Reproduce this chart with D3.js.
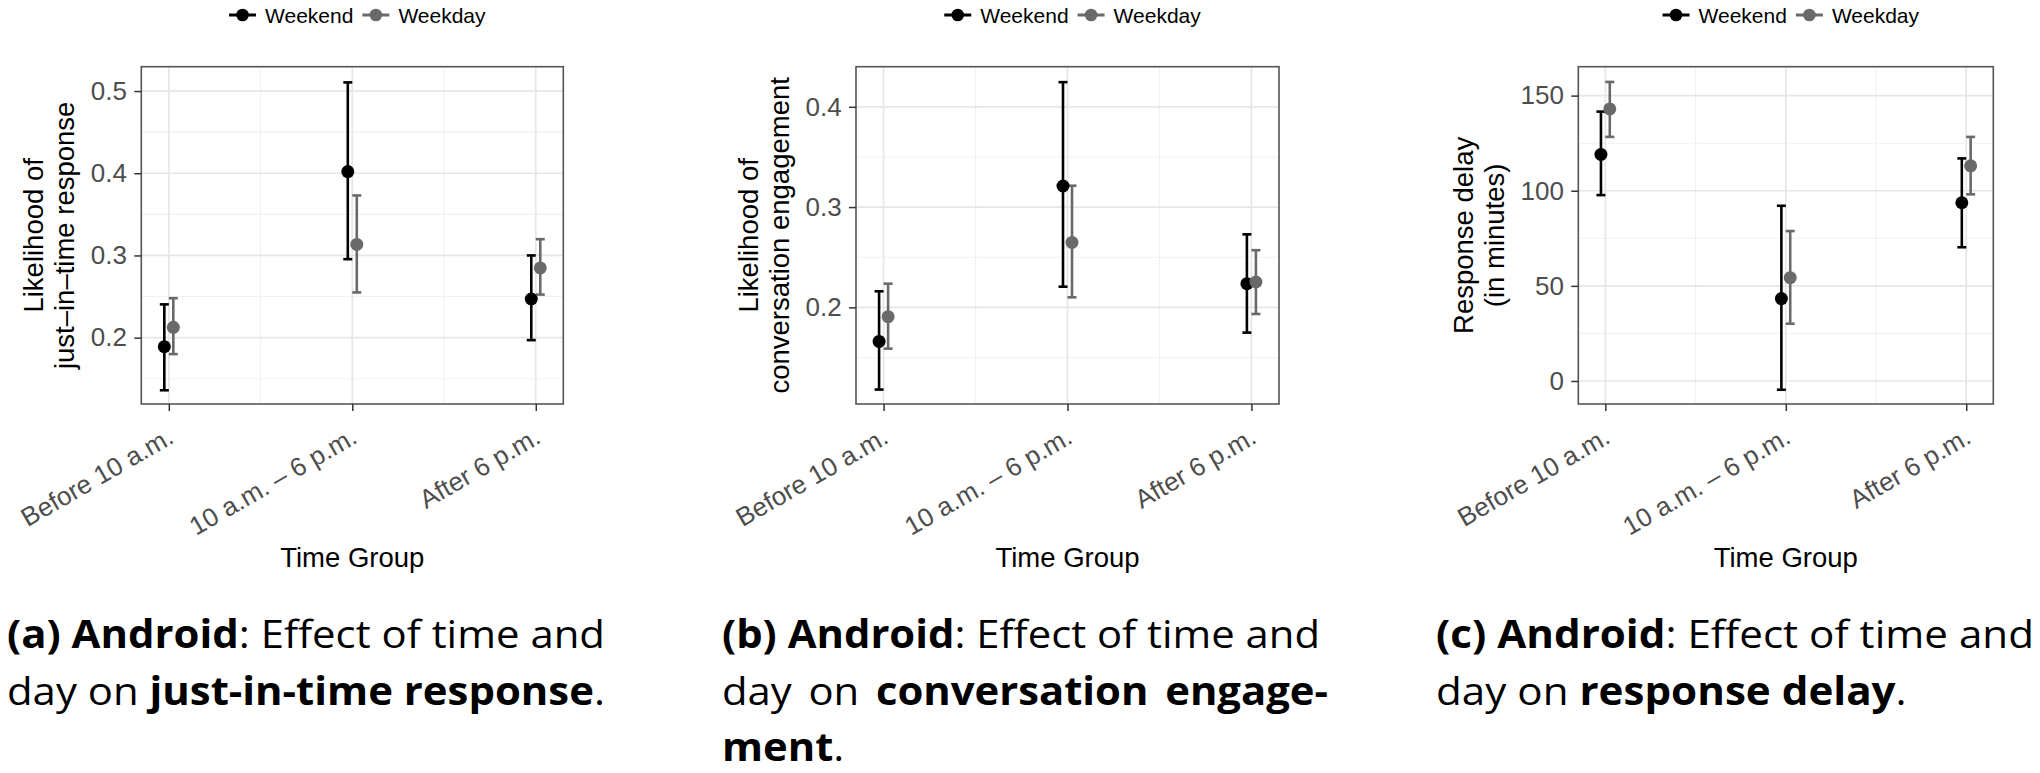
<!DOCTYPE html>
<html>
<head>
<meta charset="utf-8">
<script src="https://cdn.jsdelivr.net/npm/d3@7"></script>
<style>
  body { margin: 0; background: #ffffff; }
  svg { display: block; }
</style>
</head>
<body>
<svg id="chart" width="2040" height="773"></svg>
<script>
// ---------------- DATA ----------------
const categories = ["Before 10 a.m.", "10 a.m. \u2013 6 p.m.", "After 6 p.m."];
const seriesNames = ["Weekend", "Weekday"];

// (a) just-in-time response
const jitWeekendMean = [0.189, 0.402, 0.247];
const jitWeekendLow  = [0.136, 0.2955, 0.197];
const jitWeekendHigh = [0.2405, 0.5105, 0.300];
const jitWeekdayMean = [0.2126, 0.3134, 0.2848];
const jitWeekdayLow  = [0.180, 0.255, 0.2524];
const jitWeekdayHigh = [0.248, 0.373, 0.3198];
const jitDomain = [0.1193, 0.5296];
const jitTicks = [0.2, 0.3, 0.4, 0.5];
const jitMinorTicks = [0.15, 0.25, 0.35, 0.45];
const jitTitle = ["Likelihood of", "just\u2013in\u2013time response"];

// (b) conversation engagement
const engWeekendMean = [0.166, 0.321, 0.2236];
const engWeekendLow  = [0.118, 0.2206, 0.1748];
const engWeekendHigh = [0.216, 0.4246, 0.2728];
const engWeekdayMean = [0.1907, 0.2647, 0.2253];
const engWeekdayLow  = [0.1588, 0.210, 0.1934];
const engWeekdayHigh = [0.2236, 0.3213, 0.257];
const engDomain = [0.1036, 0.44];
const engTicks = [0.2, 0.3, 0.4];
const engMinorTicks = [0.15, 0.25, 0.35];
const engTitle = ["Likelihood of", "conversation engagement"];

// (c) response delay (minutes)
const delayWeekendMean = [119.1, 43.3, 93.7];
const delayWeekendLow  = [97.7, -4.6, 70.3];
const delayWeekendHigh = [141.6, 92.1, 117.0];
const delayWeekdayMean = [143.0, 54.3, 113.1];
const delayWeekdayLow  = [128.3, 30.1, 98.1];
const delayWeekdayHigh = [157.2, 78.8, 128.3];
const delayDomain = [-12.1, 165.2];
const delayTicks = [0, 50, 100, 150];
const delayMinorTicks = [25, 75, 125];
const delayTitle = ["Response delay", "(in minutes)"];

const xTitle = "Time Group";

const captionA = ["**(a) Android**: Effect of time and", "day on **just-in-time response**."];
const captionB = ["**(b) Android**: Effect of time and", "day on **conversation engage-**", "**ment**."];
const captionC = ["**(c) Android**: Effect of time and", "day on **response delay**."];

// ---------------- STYLE / LAYOUT ----------------
const FONT = "'Liberation Sans', Arial, Helvetica, sans-serif";
const CAPFONT = "'Open Sans', Lato, sans-serif";
const colors = { Weekend: "#000000", Weekday: "#696969" };
const panelTop = 66.7, panelBottom = 404;

const svg = d3.select("#chart");
svg.append("rect").attr("width", 2040).attr("height", 773).attr("fill", "#fff");

const panels = [
  { left: 141.3, right: 563.3, domain: jitDomain, ticks: jitTicks, minor: jitMinorTicks, fmt: d3.format(".1f"), title: jitTitle,
    series: [
      { name: seriesNames[0], mean: jitWeekendMean, low: jitWeekendLow, high: jitWeekendHigh, side: -1 },
      { name: seriesNames[1], mean: jitWeekdayMean, low: jitWeekdayLow, high: jitWeekdayHigh, side: 1 }
    ],
    caption: captionA, capX: 7, capJustify: [true, false], capWidths: [598, 598] },
  { left: 856, right: 1279, domain: engDomain, ticks: engTicks, minor: engMinorTicks, fmt: d3.format(".1f"), title: engTitle,
    series: [
      { name: seriesNames[0], mean: engWeekendMean, low: engWeekendLow, high: engWeekendHigh, side: -1 },
      { name: seriesNames[1], mean: engWeekdayMean, low: engWeekdayLow, high: engWeekdayHigh, side: 1 }
    ],
    caption: captionB, capX: 722, capJustify: [true, true, false], capWidths: [598, 606, 598] },
  { left: 1578.3, right: 1993.3, domain: delayDomain, ticks: delayTicks, minor: delayMinorTicks, fmt: d3.format("d"), title: delayTitle,
    series: [
      { name: seriesNames[0], mean: delayWeekendMean, low: delayWeekendLow, high: delayWeekendHigh, side: -1 },
      { name: seriesNames[1], mean: delayWeekdayMean, low: delayWeekdayLow, high: delayWeekdayHigh, side: 1 }
    ],
    caption: captionC, capX: 1436, capJustify: [true, false], capWidths: [598, 598] }
];

function drawPanel(p) {
  const g = svg.append("g");
  const x = d3.scalePoint().domain(categories).range([p.left, p.right]).padding(0.15);
  const y = d3.scaleLinear().domain(p.domain).range([panelBottom, panelTop]);
  const dodge = x.step() * 0.0245;
  const capHalf = 4.5;

  // grid: minor
  g.append("g").selectAll("line").data(p.minor).join("line")
    .attr("x1", p.left).attr("x2", p.right)
    .attr("y1", d => y(d)).attr("y2", d => y(d))
    .attr("stroke", "#f1f1f1").attr("stroke-width", 1.1);
  const mids = d3.pairs(categories).map(([a, b]) => (x(a) + x(b)) / 2);
  g.append("g").selectAll("line").data(mids).join("line")
    .attr("x1", d => d).attr("x2", d => d)
    .attr("y1", panelTop).attr("y2", panelBottom)
    .attr("stroke", "#f1f1f1").attr("stroke-width", 1.1);
  // grid: major
  g.append("g").selectAll("line").data(p.ticks).join("line")
    .attr("x1", p.left).attr("x2", p.right)
    .attr("y1", d => y(d)).attr("y2", d => y(d))
    .attr("stroke", "#e6e6e6").attr("stroke-width", 1.7);
  g.append("g").selectAll("line").data(categories).join("line")
    .attr("x1", d => x(d)).attr("x2", d => x(d))
    .attr("y1", panelTop).attr("y2", panelBottom)
    .attr("stroke", "#e6e6e6").attr("stroke-width", 1.7);

  // error bars
  p.series.forEach(s => {
    const col = colors[s.name];
    const eg = g.append("g");
    categories.forEach((c, i) => {
      const cx = x(c) + s.side * dodge;
      eg.append("line").attr("x1", cx).attr("x2", cx).attr("y1", y(s.low[i])).attr("y2", y(s.high[i]))
        .attr("stroke", col).attr("stroke-width", 2.6);
      [s.low[i], s.high[i]].forEach(v => {
        eg.append("line").attr("x1", cx - capHalf).attr("x2", cx + capHalf).attr("y1", y(v)).attr("y2", y(v))
          .attr("stroke", col).attr("stroke-width", 2.6);
      });
    });
  });
  // points
  p.series.forEach(s => {
    g.append("g").selectAll("circle").data(categories).join("circle")
      .attr("cx", d => x(d) + s.side * dodge)
      .attr("cy", (d, i) => y(s.mean[i]))
      .attr("r", 6.5)
      .attr("fill", colors[s.name]);
  });

  // border
  g.append("rect").attr("x", p.left).attr("y", panelTop)
    .attr("width", p.right - p.left).attr("height", panelBottom - panelTop)
    .attr("fill", "none").attr("stroke", "#555").attr("stroke-width", 1.6);

  // y axis
  const ya = g.append("g").attr("transform", `translate(${p.left},0)`)
    .call(d3.axisLeft(y).tickValues(p.ticks).tickFormat(p.fmt).tickSize(7).tickPadding(7.3));
  ya.select(".domain").remove();
  ya.selectAll("line").attr("stroke", "#333").attr("stroke-width", 1.5);
  ya.selectAll("text").attr("font-family", FONT).attr("font-size", 26).attr("fill", "#4d4d4d");

  // x axis
  const xa = g.append("g").attr("transform", `translate(0,${panelBottom})`)
    .call(d3.axisBottom(x).tickSize(7));
  xa.select(".domain").remove();
  xa.selectAll("line").attr("stroke", "#333").attr("stroke-width", 1.5);
  xa.selectAll("text")
    .attr("font-family", FONT).attr("font-size", 26).attr("fill", "#4d4d4d")
    .attr("x", 0).attr("y", 0).attr("dy", 0)
    .attr("text-anchor", "end")
    .attr("transform", "translate(6,38) rotate(-30)");

  // x title
  g.append("text").attr("x", (p.left + p.right) / 2).attr("y", 567)
    .attr("text-anchor", "middle").attr("font-family", FONT).attr("font-size", 27.5).attr("fill", "#000")
    .text(xTitle);

  // y title
  const maxW = d3.max(ya.selectAll("text").nodes(), n => n.getComputedTextLength());
  const labelsLeft = p.left - 7 - 7.3 - maxW;
  const xb = labelsLeft - 17;
  const yc = (panelTop + panelBottom) / 2;
  const yt = g.append("text").attr("transform", `translate(${xb},${yc}) rotate(-90)`)
    .attr("text-anchor", "middle").attr("font-family", FONT).attr("font-size", 27.5).attr("fill", "#000");
  yt.append("tspan").attr("x", 0).attr("y", -31).text(p.title[0]);
  yt.append("tspan").attr("x", 0).attr("y", 0).text(p.title[1]);

  // legend
  const lg = g.append("g");
  const keyW = 27, gap = 9;
  let cursor = 0;
  seriesNames.forEach(name => {
    const it = lg.append("g");
    it.append("line").attr("x1", cursor).attr("x2", cursor + keyW).attr("y1", 15).attr("y2", 15)
      .attr("stroke", colors[name]).attr("stroke-width", 3);
    it.append("circle").attr("cx", cursor + keyW / 2).attr("cy", 15).attr("r", 6.3).attr("fill", colors[name]);
    const t = it.append("text").attr("x", cursor + keyW + gap).attr("y", 22.5)
      .attr("font-family", FONT).attr("font-size", 21).attr("fill", "#000").text(name);
    cursor += keyW + gap + t.node().getComputedTextLength() + gap;
  });
  const total = cursor - gap;
  const pc = (p.left + p.right) / 2 + 5;
  lg.attr("transform", `translate(${pc - total / 2},0)`);

  // caption
  drawCaption(p.caption, p.capX, p.capJustify, p.capWidths);
}

function parseLine(str) {
  const parts = str.split("**");
  const words = [[]];
  parts.forEach((part, i) => {
    const bold = i % 2 === 1;
    part.split(" ").forEach((c, j) => {
      if (j > 0) words.push([]);
      if (c.length) words[words.length - 1].push({ t: c, b: bold });
    });
  });
  return words.filter(w => w.length);
}

function drawCaption(lines, x0, justify, widths) {
  const baselines = [648, 705, 761];
  const fs = 39;
  const space = fs * 0.26;
  const cg = svg.append("g");
  const inner = cg.append("g");
  const rows = lines.map((line, li) => {
    const words = parseLine(line);
    const nodes = words.map(w => {
      const t = inner.append("text").attr("y", baselines[li])
        .attr("font-family", CAPFONT).attr("font-size", fs).attr("fill", "#000");
      w.forEach(piece => t.append("tspan").attr("font-weight", piece.b ? 700 : 400).text(piece.t));
      return t;
    });
    const ws = nodes.map(n => n.node().getComputedTextLength());
    return { words, nodes, ws };
  });
  // horizontal scale so that first line at natural spacing fills its width
  const r0 = rows[0];
  const natural0 = d3.sum(r0.ws) + space * (r0.ws.length - 1);
  const sx = widths[0] / natural0;
  rows.forEach((r, li) => {
    const sum = d3.sum(r.ws);
    const target = widths[li] / sx;
    const g = (justify[li] && r.words.length > 1) ? (target - sum) / (r.words.length - 1) : space;
    let cx = 0;
    r.nodes.forEach((n, i) => { n.attr("x", cx); cx += r.ws[i] + g; });
  });
  inner.attr("transform", `translate(${x0},0) scale(${sx},1)`);
}

panels.forEach(drawPanel);
</script>
</body>
</html>
